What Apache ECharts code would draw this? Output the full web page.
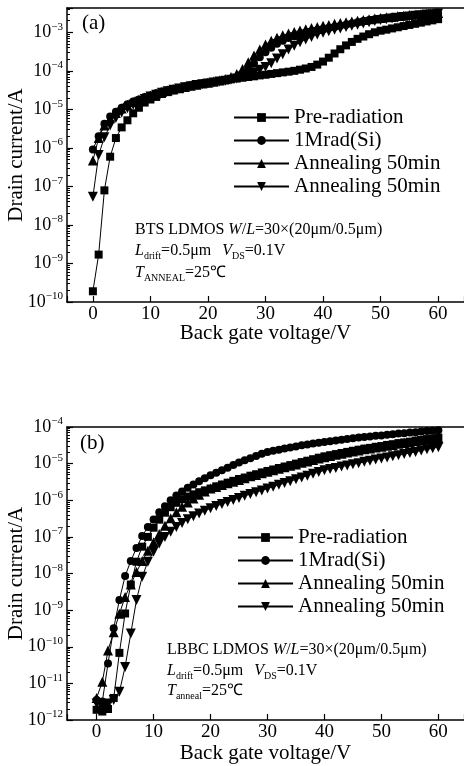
<!DOCTYPE html>
<html>
<head>
<meta charset="utf-8">
<script src="https://cdn.jsdelivr.net/npm/echarts@6/dist/echarts.min.js"></script>
<style>
html,body{margin:0;padding:0;background:#fff}
#chart{width:464px;height:766px}
</style>
</head>
<body>
<div id="chart"></div>
<script>
var FONT = "'Liberation Serif', 'Times New Roman', serif";

// back gate voltage (V)
var volts = [0,1,2,3,4,5,6,7,8,9,10,11,12,13,14,15,16,17,18,19,20,21,22,23,24,25,26,27,28,29,30,
  31,32,33,34,35,36,37,38,39,40,41,42,43,44,45,46,47,48,49,50,51,52,53,54,55,56,57,58,59,60];

// (a) BTS LDMOS, drain current (A)
var preA = [1.9e-10,1.7e-9,7.9e-8,5.9e-7,1.8e-6,3.4e-6,5.2e-6,7.9e-6,1.1e-5,1.5e-5,
  1.8e-5,2.1e-5,2.5e-5,2.8e-5,3.1e-5,3.4e-5,3.7e-5,4.0e-5,4.3e-5,4.6e-5,
  4.8e-5,5.0e-5,5.4e-5,5.6e-5,6.0e-5,6.3e-5,6.6e-5,6.9e-5,7.2e-5,7.6e-5,
  7.9e-5,8.3e-5,8.7e-5,9.1e-5,9.5e-5,1.0e-4,1.07e-4,1.15e-4,1.26e-4,1.45e-4,
  1.74e-4,2.19e-4,2.82e-4,3.63e-4,4.57e-4,5.62e-4,6.76e-4,7.76e-4,8.91e-4,1.0e-3,
  1.10e-3,1.17e-3,1.26e-3,1.35e-3,1.45e-3,1.55e-3,1.66e-3,1.78e-3,1.91e-3,2.04e-3,2.19e-3];
var radA = [9.1e-7,2.0e-6,4.2e-6,6.5e-6,8.7e-6,1.1e-5,1.35e-5,1.6e-5,1.8e-5,2.1e-5,
  2.3e-5,2.6e-5,2.9e-5,3.2e-5,3.4e-5,3.6e-5,3.9e-5,4.2e-5,4.5e-5,4.7e-5,
  5.0e-5,5.2e-5,5.5e-5,5.9e-5,6.2e-5,6.8e-5,8.3e-5,1.12e-4,1.58e-4,2.24e-4,
  3.02e-4,3.98e-4,5.01e-4,6.03e-4,7.08e-4,7.94e-4,8.71e-4,9.55e-4,1.05e-3,1.12e-3,
  1.20e-3,1.29e-3,1.38e-3,1.48e-3,1.58e-3,1.70e-3,1.82e-3,1.95e-3,2.09e-3,2.19e-3,
  2.29e-3,2.34e-3,2.45e-3,2.51e-3,2.57e-3,2.69e-3,2.75e-3,2.82e-3,2.88e-3,2.95e-3,3.02e-3];
var annUpA = [4.7e-7,1.8e-6,3.8e-6,5.9e-6,8.1e-6,1.05e-5,1.29e-5,1.55e-5,1.78e-5,2.04e-5,
  2.29e-5,2.57e-5,2.82e-5,3.09e-5,3.31e-5,3.55e-5,3.80e-5,4.07e-5,4.37e-5,4.68e-5,
  4.90e-5,5.25e-5,5.62e-5,6.17e-5,6.92e-5,8.32e-5,1.12e-4,1.66e-4,2.51e-4,3.55e-4,
  4.79e-4,6.03e-4,7.24e-4,8.32e-4,9.33e-4,1.02e-3,1.12e-3,1.20e-3,1.29e-3,1.38e-3,
  1.48e-3,1.55e-3,1.66e-3,1.74e-3,1.82e-3,1.91e-3,2.00e-3,2.09e-3,2.19e-3,2.29e-3,
  2.34e-3,2.45e-3,2.51e-3,2.63e-3,2.69e-3,2.82e-3,2.88e-3,2.95e-3,3.02e-3,3.09e-3,3.16e-3];
var annDownA = [5.4e-8,6.5e-7,1.9e-6,3.8e-6,6.0e-6,8.3e-6,1.07e-5,1.32e-5,1.58e-5,1.86e-5,
  2.14e-5,2.40e-5,2.69e-5,2.95e-5,3.24e-5,3.47e-5,3.72e-5,3.98e-5,4.27e-5,4.47e-5,
  4.68e-5,5.01e-5,5.25e-5,5.50e-5,5.89e-5,6.31e-5,7.08e-5,7.94e-5,9.12e-5,1.07e-4,
  1.26e-4,1.58e-4,2.09e-4,2.69e-4,3.55e-4,4.47e-4,5.50e-4,6.46e-4,7.59e-4,8.71e-4,
  9.77e-4,1.07e-3,1.17e-3,1.26e-3,1.38e-3,1.48e-3,1.58e-3,1.70e-3,1.82e-3,1.95e-3,
  2.09e-3,2.19e-3,2.29e-3,2.40e-3,2.51e-3,2.57e-3,2.69e-3,2.75e-3,2.88e-3,2.95e-3,3.09e-3];

// (b) LBBC LDMOS, drain current (A)
var preB = [1.9e-12,1.7e-12,2.0e-12,4.0e-12,6.8e-11,8.1e-10,5.0e-9,2.1e-8,5.4e-8,1.0e-7,
  1.78e-7,2.95e-7,4.57e-7,6.46e-7,8.51e-7,1.07e-6,1.26e-6,1.45e-6,1.66e-6,1.86e-6,
  2.09e-6,2.40e-6,2.69e-6,3.02e-6,3.39e-6,3.80e-6,4.17e-6,4.68e-6,5.13e-6,5.75e-6,
  6.31e-6,6.92e-6,7.59e-6,8.32e-6,9.12e-6,1.0e-5,1.10e-5,1.20e-5,1.32e-5,1.45e-5,
  1.58e-5,1.70e-5,1.82e-5,1.95e-5,2.09e-5,2.24e-5,2.40e-5,2.57e-5,2.69e-5,2.88e-5,
  3.02e-5,3.24e-5,3.39e-5,3.63e-5,3.80e-5,3.98e-5,4.27e-5,4.47e-5,4.68e-5,4.90e-5,5.13e-5];
var radB = [3.5e-12,3.2e-12,3.5e-11,3.2e-10,1.9e-9,8.5e-9,2.2e-8,5.0e-8,1.05e-7,1.86e-7,
  3.0e-7,4.7e-7,6.9e-7,1.0e-6,1.35e-6,1.74e-6,2.19e-6,2.69e-6,3.31e-6,3.98e-6,
  4.79e-6,5.62e-6,6.61e-6,7.76e-6,9.12e-6,1.07e-5,1.23e-5,1.41e-5,1.62e-5,1.86e-5,
  2.09e-5,2.24e-5,2.40e-5,2.57e-5,2.75e-5,2.95e-5,3.16e-5,3.31e-5,3.55e-5,3.72e-5,
  3.89e-5,4.07e-5,4.27e-5,4.47e-5,4.68e-5,4.90e-5,5.13e-5,5.37e-5,5.50e-5,5.75e-5,
  5.89e-5,6.17e-5,6.31e-5,6.61e-5,6.76e-5,7.08e-5,7.24e-5,7.59e-5,7.76e-5,7.94e-5,8.13e-5];
var annUpB = [4.0e-12,1.1e-11,7.9e-11,2.5e-10,7.9e-10,2.3e-9,5.0e-9,1.1e-8,2.2e-8,4.2e-8,
  7.1e-8,1.2e-7,2.0e-7,3.2e-7,4.7e-7,6.6e-7,8.7e-7,1.12e-6,1.41e-6,1.74e-6,
  2.09e-6,2.3e-6,2.6e-6,2.9e-6,3.2e-6,3.6e-6,4.0e-6,4.5e-6,4.9e-6,5.5e-6,
  6.0e-6,6.6e-6,7.2e-6,7.9e-6,8.7e-6,9.5e-6,1.05e-5,1.15e-5,1.26e-5,1.38e-5,
  1.5e-5,1.62e-5,1.74e-5,1.86e-5,2.0e-5,2.14e-5,2.29e-5,2.45e-5,2.57e-5,2.75e-5,
  2.88e-5,3.1e-5,3.24e-5,3.47e-5,3.63e-5,3.8e-5,4.07e-5,4.27e-5,4.47e-5,4.68e-5,4.9e-5];
var annDownB = [2.8e-12,2.2e-12,2.8e-12,3.5e-12,5.9e-12,2.8e-11,2.3e-10,1.9e-9,8.1e-9,2.1e-8,
  3.9e-8,6.6e-8,1.0e-7,1.38e-7,1.86e-7,2.40e-7,3.02e-7,3.63e-7,4.37e-7,5.13e-7,
  6.03e-7,6.92e-7,7.94e-7,8.91e-7,1.02e-6,1.15e-6,1.32e-6,1.48e-6,1.66e-6,1.86e-6,
  2.09e-6,2.34e-6,2.63e-6,2.95e-6,3.31e-6,3.72e-6,4.17e-6,4.68e-6,5.25e-6,5.89e-6,
  6.61e-6,7.08e-6,7.59e-6,8.32e-6,8.91e-6,9.55e-6,1.02e-5,1.12e-5,1.20e-5,1.29e-5,
  1.38e-5,1.48e-5,1.58e-5,1.70e-5,1.82e-5,1.95e-5,2.09e-5,2.29e-5,2.45e-5,2.63e-5,2.82e-5];

// legend names (the trailing space keeps the two annealing entries apart)
var names = ['Pre-radiation', '1Mrad(Si)', 'Annealing 50min', 'Annealing 50min '];

// axis ranges
var xRangeA = [-4.5, 64.5];
var xRangeB = [-5.2, 64.5];
var yRangeA = [1e-10, 4.27e-3];
var yRangeB = [1e-12, 1e-4];

function pairs(ys) {
  var out = [];
  for (var i = 0; i < volts.length; i++) out.push([volts[i], ys[i]]);
  return out;
}

// log spaced minor ticks 2..9 x 10^n inside the range
function minorTicks(range) {
  var out = [];
  var lo = Math.floor(Math.log10(range[0]));
  var hi = Math.ceil(Math.log10(range[1]));
  for (var n = lo; n < hi; n++) {
    for (var k = 2; k <= 9; k++) {
      var v = k * Math.pow(10, n);
      if (v > range[0] && v < range[1]) out.push(v);
    }
  }
  return out;
}

function powLabel(v) {
  var e = Math.log10(v);
  var n = Math.round(e);
  if (Math.abs(e - n) > 1e-6) return '';
  return '{b|10}{s|' + (n < 0 ? '\u2212' : '') + Math.abs(n) + '}';
}

var powRich = {
  b: { fontSize: 18, fontFamily: FONT, color: '#000', lineHeight: 22 },
  s: { fontSize: 11, fontFamily: FONT, color: '#000', lineHeight: 13, verticalAlign: 'top' }
};

function xMain(grid, range, gap) {
  return {
    type: 'value', gridIndex: grid, position: 'bottom',
    min: range[0], max: range[1], splitNumber: 7,
    axisLine: { show: true, onZero: false, lineStyle: { color: '#000', width: 1.5 } },
    axisTick: { show: true, inside: true, length: 6, lineStyle: { color: '#000', width: 1.2 } },
    axisLabel: {
      margin: 3, fontSize: 19, fontFamily: FONT, color: '#000',
      formatter: function (v) { return v % 10 === 0 ? String(v) : ''; }
    },
    splitLine: { show: false },
    name: 'Back gate voltage/V', nameLocation: 'middle', nameGap: gap, nameMoveOverlap: false,
    nameTextStyle: { fontSize: 21, fontFamily: FONT, color: '#000' }
  };
}

function xTop(grid, range) {
  return {
    type: 'value', gridIndex: grid, position: 'top',
    min: range[0], max: range[1],
    axisLine: { show: true, onZero: false, lineStyle: { color: '#000', width: 1.5 } },
    axisTick: { show: false }, axisLabel: { show: false }, splitLine: { show: false }
  };
}

function yMain(grid, range) {
  return {
    type: 'log', gridIndex: grid, position: 'left', logBase: 10,
    min: range[0], max: range[1],
    axisLine: { show: true, onZero: false, lineStyle: { color: '#000', width: 1.5 } },
    axisTick: { show: true, inside: true, length: 6, lineStyle: { color: '#000', width: 1.2 } },
    axisLabel: { margin: 4, formatter: powLabel, rich: powRich },
    splitLine: { show: false },
    name: 'Drain current/A', nameLocation: 'middle', nameRotate: 90, nameGap: 40,
    nameMoveOverlap: false,
    nameTextStyle: { fontSize: 21, fontFamily: FONT, color: '#000' }
  };
}

function yMinor(grid, range) {
  return {
    type: 'log', gridIndex: grid, position: 'left', logBase: 10,
    min: range[0], max: range[1],
    axisLine: { show: false, onZero: false },
    axisTick: { show: true, inside: true, length: 3, customValues: minorTicks(range),
      lineStyle: { color: '#000', width: 1 } },
    axisLabel: { show: false }, splitLine: { show: false }
  };
}

function line(name, ys, grid, symbol, size, rotate) {
  return {
    name: name, type: 'line', xAxisIndex: grid * 2, yAxisIndex: grid * 2,
    data: pairs(ys), symbol: symbol, symbolSize: size, symbolRotate: rotate,
    showSymbol: true, showAllSymbol: true,
    lineStyle: { color: '#000', width: 1 },
    itemStyle: { color: '#000' },
    emphasis: { disabled: true }
  };
}

function legend(left, top) {
  return {
    orient: 'vertical', left: left, top: top, data: names, selectedMode: false,
    itemWidth: 55, itemHeight: 11, itemGap: 0, padding: 0,
    textStyle: { fontSize: 21, fontFamily: FONT, color: '#000', lineHeight: 23 }
  };
}

var annRich = {
  n: { fontSize: 16, fontFamily: FONT, fill: '#000', lineHeight: 20 },
  i: { fontSize: 16, fontFamily: FONT, fontStyle: 'italic', fill: '#000', lineHeight: 20 },
  iv: { fontSize: 16, fontFamily: FONT, fontStyle: 'italic', fill: '#000', lineHeight: 20, padding: [0, 0, 0, 11] },
  sub: { fontSize: 10, fontFamily: FONT, fill: '#000', lineHeight: 12, verticalAlign: 'bottom' }
};

function note(left, top, text) {
  return { type: 'text', left: left, top: top, silent: true,
    style: { text: text, rich: annRich, fill: '#000' } };
}

var chart = echarts.init(document.getElementById('chart'), null, { renderer: 'canvas' });

var option = {
  animation: false,
  backgroundColor: '#fff',
  grid: [
    { left: 67, top: 8, width: 397, height: 294, containLabel: false, outerBoundsMode: 'none' },
    { left: 67, top: 427, width: 397, height: 293, containLabel: false, outerBoundsMode: 'none' }
  ],
  xAxis: [xMain(0, xRangeA, 21), xTop(0, xRangeA), xMain(1, xRangeB, 23), xTop(1, xRangeB)],
  yAxis: [yMain(0, yRangeA), yMinor(0, yRangeA), yMain(1, yRangeB), yMinor(1, yRangeB)],
  legend: [legend(233, 106), legend(237, 526)],
  series: [
    line(names[0], preA, 0, 'rect', 8, 0),
    line(names[1], radA, 0, 'circle', 8, 0),
    line(names[2], annUpA, 0, 'triangle', 10, 0),
    line(names[3], annDownA, 0, 'triangle', 10, 180),
    line(names[0], preB, 1, 'rect', 8, 0),
    line(names[1], radB, 1, 'circle', 8, 0),
    line(names[2], annUpB, 1, 'triangle', 10, 0),
    line(names[3], annDownB, 1, 'triangle', 10, 180)
  ],
  graphic: [
    { type: 'text', left: 82, top: 13, silent: true,
      style: { text: '(a)', fontSize: 21, fontFamily: FONT, fill: '#000' } },
    { type: 'text', left: 80, top: 433, silent: true,
      style: { text: '(b)', fontSize: 21, fontFamily: FONT, fill: '#000' } },
    note(135, 222, '{n|BTS LDMOS }{i|W}{n|/}{i|L}{n|=30×(20μm/0.5μm)}'),
    note(135, 243, '{i|L}{sub|drift}{n|=0.5μm}{iv|V}{sub|DS}{n|=0.1V}'),
    note(135, 265, '{i|T}{sub|ANNEAL}{n|=25℃}'),
    note(167, 642, '{n|LBBC LDMOS }{i|W}{n|/}{i|L}{n|=30×(20μm/0.5μm)}'),
    note(167, 663, '{i|L}{sub|drift}{n|=0.5μm}{iv|V}{sub|DS}{n|=0.1V}'),
    note(167, 683, '{i|T}{sub|anneal}{n|=25℃}')
  ]
};

chart.setOption(option);
</script>
</body>
</html>
